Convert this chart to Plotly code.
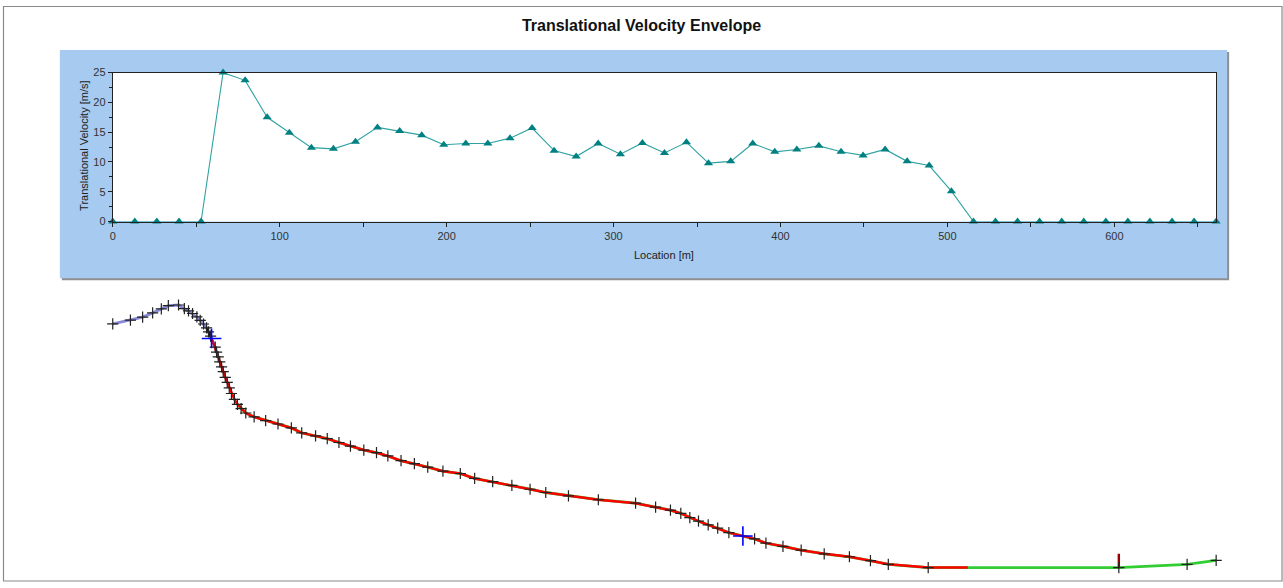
import numpy as np
import plotly.graph_objects as go

# ---------------- data ----------------
# Velocity envelope (top chart)
location_m = [0.0, 13.2, 26.4, 39.7, 52.9, 66.1, 79.3, 92.5, 105.8, 119.0,
              132.2, 145.4, 158.6, 171.9, 185.1, 198.3, 211.5, 224.7, 238.0, 251.2,
              264.4, 277.6, 290.8, 304.1, 317.3, 330.5, 343.7, 356.9, 370.2, 383.4,
              396.6, 409.8, 423.0, 436.3, 449.5, 462.7, 475.9, 489.1, 502.4, 515.6,
              528.8, 542.0, 555.2, 568.5, 581.7, 594.9, 608.1, 621.3, 634.6, 647.8,
              661.0]
velocity_ms = [0, 0, 0, 0, 0, 25.0, 23.7, 17.5, 14.9, 12.4,
               12.2, 13.4, 15.8, 15.2, 14.5, 12.9, 13.1, 13.1, 14.0, 15.7,
               11.9, 10.9, 13.1, 11.3, 13.2, 11.5, 13.3, 9.8, 10.1, 13.1,
               11.7, 12.1, 12.7, 11.7, 11.1, 12.1, 10.1, 9.4, 5.1, 0,
               0, 0, 0, 0, 0, 0, 0, 0, 0, 0,
               0]

# Slope profile (bottom drawing): horizontal location [m], elevation [m]
profile_x = [0.0, 10.6, 17.9, 23.9, 29.1, 33.3, 39.4, 42.9, 45.4, 47.8,
             50.4, 52.4, 54.4, 56.2, 57.4, 58.6, 61.4, 62.2, 63.2, 64.1,
             65.2, 66.2, 67.4, 68.6, 69.8, 71.1, 72.9, 74.7, 76.9, 79.7,
             84.7, 91.6, 99.0, 107.0, 113.2, 121.5, 128.5, 135.5, 142.4, 150.4,
             158.0, 164.8, 172.7, 180.7, 188.7, 197.8, 208.2, 216.8, 227.6, 239.1,
             250.0, 259.4, 273.0, 290.9, 313.2, 325.2, 334.1, 340.3, 345.7, 350.9,
             356.7, 362.4, 369.1, 384.5, 391.3, 401.5, 412.4, 426.2, 441.3, 453.9,
             464.6, 488.5, 602.7, 643.6, 661.0]
profile_z = [248.7, 251.0, 252.8, 255.4, 257.8, 259.8, 260.2, 258.0, 256.6, 255.0,
             253.0, 250.8, 248.6, 246.2, 243.8, 241.2, 234.5, 231.5, 228.5, 225.5,
             222.5, 219.5, 216.1, 213.0, 209.6, 206.2, 202.6, 199.6, 197.0, 194.3,
             191.9, 189.7, 187.6, 185.2, 182.2, 180.3, 178.7, 176.3, 174.1, 171.7,
             170.1, 168.1, 165.2, 163.4, 161.3, 158.8, 157.4, 154.4, 152.4, 150.2,
             147.8, 145.8, 143.8, 141.4, 139.3, 136.9, 135.0, 133.1, 130.5, 128.3,
             126.1, 124.1, 121.3, 117.5, 114.9, 113.0, 110.6, 108.4, 106.6, 104.2,
             102.0, 100.0, 100.0, 102.0, 104.4]

release_m = 59.2            # blue cross 1 (start of rockfall path)
marker2_m = 377.5           # blue cross 2
runout_end_m = 512.2        # end of red runout path
green_start_m = 74.7
blue_segment = [56.3, 60.6]
barrier_m = 602.7
barrier_height = 8.4

assert len(location_m) == len(velocity_ms)
assert len(profile_x) == len(profile_z)

px_arr = np.array(profile_x)
pz_arr = np.array(profile_z)


def segment(a, b):
    xs = [a] + [x for x in profile_x if a < x < b] + [b]
    zs = list(np.interp(xs, px_arr, pz_arr))
    return xs, zs


W, H = 1283, 588


def pxx(p):
    return p / W


def pyy(p):
    return 1 - p / H


FONT = "Liberation Sans, Arial, sans-serif"

fig = go.Figure()

# ---- top chart ----
fig.add_trace(go.Scatter(
    x=location_m, y=velocity_ms, mode="lines+markers",
    line=dict(color="#30A2A2", width=1.1),
    marker=dict(symbol="triangle-up", size=8, color="#008080"),
    cliponaxis=False, xaxis="x", yaxis="y", showlegend=False))

# ---- bottom profile ----
lx, lz = segment(profile_x[0], release_m)
fig.add_trace(go.Scatter(x=lx, y=lz, mode="lines",
                         line=dict(color="#8A8AD6", width=3),
                         xaxis="x2", yaxis="y2", showlegend=False))
gx, gz = segment(green_start_m, profile_x[-1])
fig.add_trace(go.Scatter(x=gx, y=gz, mode="lines",
                         line=dict(color="#33CC33", width=2.8),
                         xaxis="x2", yaxis="y2", showlegend=False))
bx, bz = segment(blue_segment[0], blue_segment[1])
fig.add_trace(go.Scatter(x=bx, y=bz, mode="lines",
                         line=dict(color="#0000DD", width=2.2),
                         xaxis="x2", yaxis="y2", showlegend=False))
rx, rz = segment(release_m, runout_end_m)
fig.add_trace(go.Scatter(x=rx, y=rz, mode="lines",
                         line=dict(color="#FF0000", width=2.5),
                         xaxis="x2", yaxis="y2", showlegend=False))
# barrier
bgz = float(np.interp(barrier_m, px_arr, pz_arr))
fig.add_trace(go.Scatter(x=[barrier_m, barrier_m], y=[bgz, bgz + barrier_height],
                         mode="lines", line=dict(color="#990000", width=2.4),
                         xaxis="x2", yaxis="y2", showlegend=False))
# vertices
fig.add_trace(go.Scatter(x=profile_x, y=profile_z, mode="markers",
                         marker=dict(symbol="cross-thin", size=8, color="#222",
                                     line=dict(color="#222", width=1.2)),
                         cliponaxis=False, xaxis="x2", yaxis="y2", showlegend=False))
# blue crosses
cx = [release_m, marker2_m]
cz = list(np.interp(cx, px_arr, pz_arr))
fig.add_trace(go.Scatter(x=cx, y=cz, mode="markers",
                         marker=dict(symbol="cross-thin", size=14, color="#0000FF",
                                     line=dict(color="#0000FF", width=1.6)),
                         cliponaxis=False, xaxis="x2", yaxis="y2", showlegend=False))

x_dom = [pxx(110), pxx(1216)]
shapes = [
    dict(type="rect", xref="paper", yref="paper", x0=pxx(59), x1=pxx(1229),
         y0=pyy(280), y1=pyy(47), fillcolor="#8f8f8f", line=dict(width=0), layer="below"),
    dict(type="rect", xref="paper", yref="paper", x0=pxx(57), x1=pxx(1227),
         y0=pyy(278), y1=pyy(45), fillcolor="#A6CAF0", line=dict(width=0), layer="below"),
    dict(type="rect", xref="paper", yref="paper", x0=pxx(110), x1=pxx(1216),
         y0=pyy(220), y1=pyy(68), fillcolor="#FFFFFF", line=dict(width=0), layer="below"),
    dict(type="rect", xref="paper", yref="paper", x0=pxx(0.5), x1=pxx(1282),
         y0=pyy(587), y1=pyy(0.5), line=dict(color="#8a8a8a", width=1.2), layer="above"),
]

annotations = [
    dict(text="Location [m]", xref="paper", yref="paper", x=pxx(663), y=pyy(254),
         showarrow=False, font=dict(family=FONT, size=11, color="#222"),
         xanchor="center", yanchor="middle"),
    dict(text="Translational Velocity [m/s]", xref="paper", yref="paper",
         x=pxx(81), y=pyy(143), textangle=-90, showarrow=False,
         font=dict(family=FONT, size=11, color="#222"),
         xanchor="center", yanchor="middle"),
]

fig.update_layout(
    width=W, height=H, margin=dict(l=0, r=0, t=0, b=0), autosize=False,
    paper_bgcolor="white", plot_bgcolor="white",
    title=dict(text="<b>Translational Velocity Envelope</b>", x=0.5, xanchor="center",
               y=pyy(25), yanchor="middle", yref="container",
               font=dict(family=FONT, size=16, color="#111")),
    font=dict(family=FONT),
    xaxis=dict(domain=x_dom, range=[0, 661], anchor="y", dtick=100, tick0=0,
               ticks="outside", ticklen=4, tickcolor="#222", showgrid=False,
               zeroline=False, showline=True, linecolor="#222", linewidth=1,
               mirror=True, tickfont=dict(size=11, color="#333"),
               minor=dict(dtick=50, ticks="outside", ticklen=4, tickcolor="#222")),
    yaxis=dict(domain=[pyy(220), pyy(68)], range=[0, 25], anchor="x", dtick=5,
               ticks="outside", ticklen=4, tickcolor="#222", showgrid=False,
               zeroline=False, showline=True, linecolor="#222", linewidth=1,
               mirror=True, tickfont=dict(size=11, color="#333"),
               minor=dict(dtick=2.5, ticks="outside", ticklen=3, tickcolor="#222")),
    xaxis2=dict(domain=x_dom, range=[0, 661], anchor="y2", visible=False),
    yaxis2=dict(domain=[pyy(585), pyy(290)], range=[93.0, 269.3], anchor="x2",
                visible=False),
    shapes=shapes, annotations=annotations,
)

fig.write_html(
    "out.html",
    config={"displayModeBar": False, "responsive": False},
    post_script=("document.documentElement.style.margin='0';"
                 "document.body.style.margin='0';"
                 "document.body.style.padding='0';"
                 "document.documentElement.style.overflow='hidden';"
                 "document.body.style.overflow='hidden';"),
)
